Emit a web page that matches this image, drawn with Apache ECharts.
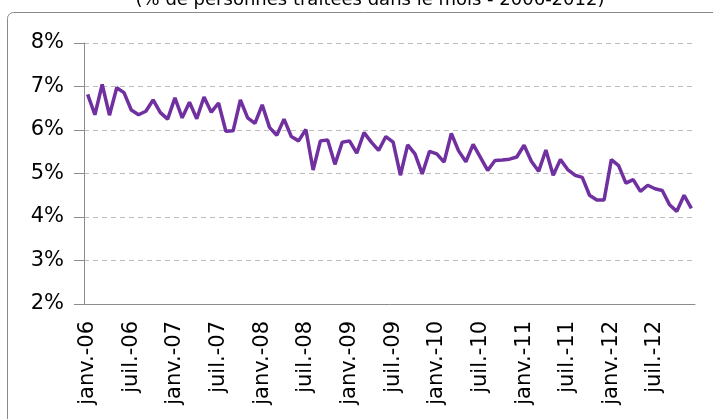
<!DOCTYPE html>
<html>
<head>
<meta charset="utf-8">
<script src="https://cdn.jsdelivr.net/npm/echarts@6/dist/echarts.min.js"></script>
<style>
    html, body { margin: 0; padding: 0; background: #fff; }
    #chart { width: 713px; height: 419px; }
</style>
</head>
<body>
<div id="chart"></div>
<script>
// mois de janv.-06 à déc.-12
var monthNames = ['janv.', 'févr.', 'mars', 'avr.', 'mai', 'juin', 'juil.', 'août', 'sept.', 'oct.', 'nov.', 'déc.']
var years = ['06', '07', '08', '09', '10', '11', '12']
var categories = []
years.forEach(function (y) {
    monthNames.forEach(function (m) {
        categories.push(m + '-' + y)
    })
})

// % de personnes traitées dans le mois
var rate2006 = [6.82, 6.35, 7.05, 6.34, 6.97, 6.86, 6.46, 6.35, 6.43, 6.69, 6.40, 6.25]
var rate2007 = [6.74, 6.28, 6.64, 6.26, 6.76, 6.41, 6.62, 5.97, 5.98, 6.69, 6.28, 6.15]
var rate2008 = [6.58, 6.06, 5.88, 6.25, 5.85, 5.75, 6.01, 5.08, 5.75, 5.77, 5.21, 5.72]
var rate2009 = [5.75, 5.47, 5.94, 5.72, 5.53, 5.85, 5.72, 4.96, 5.66, 5.45, 4.99, 5.51]
var rate2010 = [5.45, 5.26, 5.92, 5.52, 5.27, 5.67, 5.37, 5.07, 5.30, 5.31, 5.33, 5.38]
var rate2011 = [5.65, 5.28, 5.05, 5.54, 4.96, 5.32, 5.09, 4.96, 4.91, 4.50, 4.39, 4.39]
var rate2012 = [5.32, 5.18, 4.78, 4.86, 4.59, 4.73, 4.65, 4.61, 4.28, 4.13, 4.50, 4.20]

var rates = [].concat(rate2006, rate2007, rate2008, rate2009, rate2010, rate2011, rate2012)

var titleText = '(% de personnes traitées dans le mois - 2006-2012)'
var yMin = 2
var yMax = 8
var yStep = 1

var font = 'DejaVu Sans'
var chart = echarts.init(document.getElementById('chart'))

var option = {
    animation: false,
    color: ['#7030a0'],
    graphic: [
        {
            type: 'rect',
            shape: { x: 7.5, y: 12.5, width: 730, height: 430, r: 6 },
            style: { fill: 'none', stroke: '#8a8a8a', lineWidth: 1 }
        },
        {
            type: 'text',
            x: 370,
            y: 9,
            style: {
                text: titleText,
                font: '18px "DejaVu Sans"',
                fill: '#000',
                align: 'center',
                verticalAlign: 'bottom'
            }
        }
    ],
    grid: {
        left: 84,
        right: 18,
        top: 43,
        bottom: 115
    },
    xAxis: {
        type: 'category',
        data: categories,
        boundaryGap: true,
        axisLine: { lineStyle: { color: '#8c8c8c', width: 1 } },
        axisTick: {
            interval: 5,
            length: 7,
            lineStyle: { color: '#8c8c8c' }
        },
        axisLabel: {
            interval: 5,
            rotate: 90,
            margin: 17,
            fontFamily: font,
            fontSize: 21,
            color: '#000'
        },
        splitLine: { show: false }
    },
    yAxis: {
        type: 'value',
        min: yMin,
        max: yMax,
        interval: yStep,
        axisLine: { show: true, lineStyle: { color: '#8c8c8c', width: 1 } },
        axisTick: { show: true, length: 10, lineStyle: { color: '#8c8c8c' } },
        axisLabel: {
            formatter: '{value}%',
            margin: 20,
            fontFamily: font,
            fontSize: 21,
            color: '#000'
        },
        splitLine: {
            show: true,
            lineStyle: { color: '#bdbdbd', type: [5, 4], width: 1 }
        }
    },
    series: [
        {
            name: 'taux',
            type: 'line',
            data: rates,
            symbol: 'none',
            lineStyle: { width: 3.5, color: '#7030a0' }
        }
    ]
}

chart.setOption(option)
</script>
</body>
</html>
